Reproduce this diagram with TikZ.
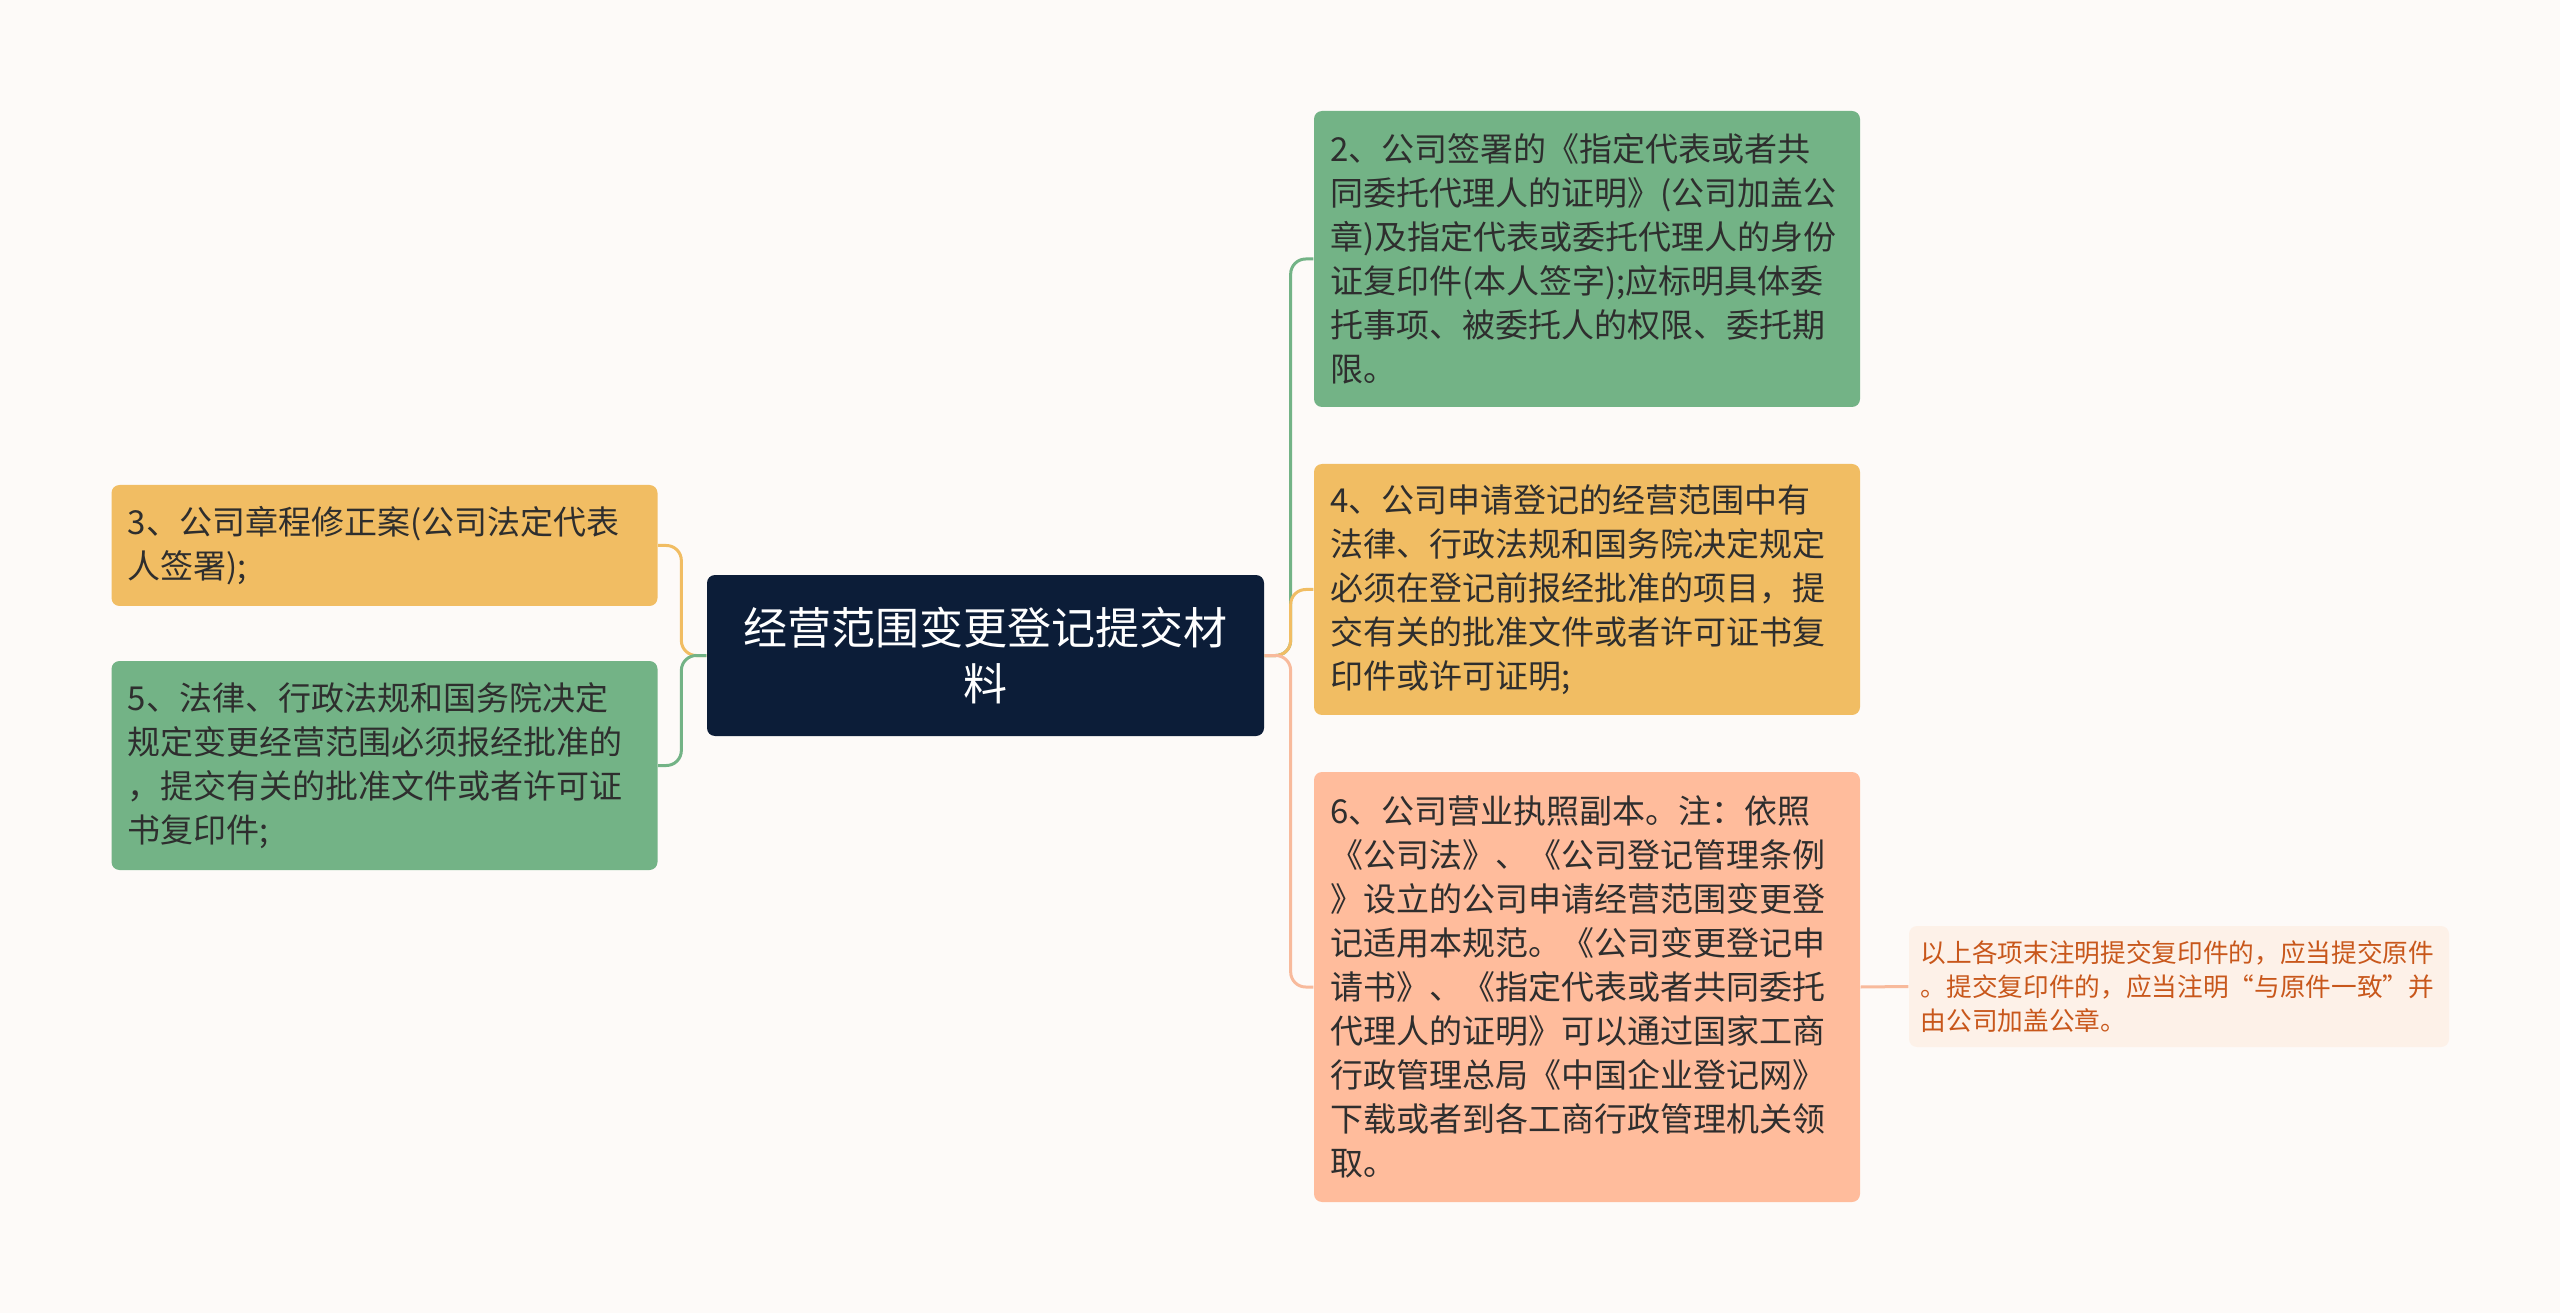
\documentclass[tikz,border=0pt]{standalone}
\usepackage{fontspec}
\setmainfont{Noto Sans CJK SC}
\definecolor{bgcol}{HTML}{FDFAF8}
\definecolor{rootcol}{HTML}{0C1D38}
\definecolor{greencol}{HTML}{73B386}
\definecolor{orangecol}{HTML}{F1BD63}
\definecolor{salmoncol}{HTML}{FFBC9C}
\definecolor{salmonline}{HTML}{F8BA9C}
\definecolor{notecol}{HTML}{FDF1E8}
\definecolor{notetext}{HTML}{C8571B}
\definecolor{boxtext}{HTML}{2E2E2E}
\begin{document}
\begin{tikzpicture}[x=0.3pt,y=-0.3pt,
    box/.style={rounded corners=2.4pt, text=boxtext, inner sep=0pt,
      font=\fontsize{9.9}{13.2}\selectfont, align=left,
      text width=154pt, minimum width=163.8pt},
    root/.style={rounded corners=2.4pt, fill=rootcol, text=white, inner sep=0pt,
      font=\fontsize{13.2}{17}\selectfont, align=center,
      text width=150pt, minimum width=167.1pt, minimum height=48.3pt},
    note/.style={rounded corners=2.4pt, fill=notecol, text=notetext, inner sep=0pt,
      font=\fontsize{7.7}{10.2}\selectfont, align=left,
      text width=155pt, minimum width=162pt, minimum height=36.3pt},
    link/.style={line width=0.9pt, rounded corners=4.5pt}]
  \useasboundingbox[fill=bgcol] (0,0) rectangle (2560,1313);
  % nodes
  \node[root] (root) at (985.5,655.5) {经营范围变更登记提交材\\料};
  \node[box, fill=greencol, minimum height=88.8pt] (b2) at (1587,259)
    {2、公司签署的《指定代表或者共\\同委托代理人的证明》(公司加盖公\\章)及指定代表或委托代理人的身份\\证复印件(本人签字);应标明具体委\\托事项、被委托人的权限、委托期\\限。};
  \node[box, fill=orangecol, minimum height=75.3pt] (b4) at (1587,589.5)
    {4、公司申请登记的经营范围中有\\法律、行政法规和国务院决定规定\\必须在登记前报经批准的项目，提\\交有关的批准文件或者许可证书复\\印件或许可证明;};
  \node[box, fill=salmoncol, minimum height=129pt] (b6) at (1587,987)
    {6、公司营业执照副本。注：依照\\《公司法》、《公司登记管理条例\\》设立的公司申请经营范围变更登\\记适用本规范。《公司变更登记申\\请书》、《指定代表或者共同委托\\代理人的证明》可以通过国家工商\\行政管理总局《中国企业登记网》\\下载或者到各工商行政管理机关领\\取。};
  \node[box, fill=orangecol, minimum height=36.3pt] (b3) at (384.5,545.5)
    {3、公司章程修正案(公司法定代表\\人签署);};
  \node[box, fill=greencol, minimum height=62.7pt] (b5) at (384.5,765.5)
    {5、法律、行政法规和国务院决定\\规定变更经营范围必须报经批准的\\，提交有关的批准文件或者许可证\\书复印件;};
  \node[note] (n6) at (2179,986.5)
    {以上各项末注明提交复印件的，应当提交原件\\。提交复印件的，应当注明“与原件一致”并\\由公司加盖公章。};
  % links
  \begin{scope}[link]
    \draw[greencol] (root.east) -- ++(26,0) |- (b2.west);
    \draw[orangecol] (root.east) -- ++(26,0) |- (b4.west);
    \draw[salmonline] (root.east) -- ++(26,0) |- (b6.west);
    \draw[orangecol] (root.west) -- ++(-25,0) |- (b3.east);
    \draw[greencol] (root.west) -- ++(-25,0) |- (b5.east);
    \draw[salmonline] (b6.east) -- (n6.west);
  \end{scope}
\end{tikzpicture}
\end{document}
